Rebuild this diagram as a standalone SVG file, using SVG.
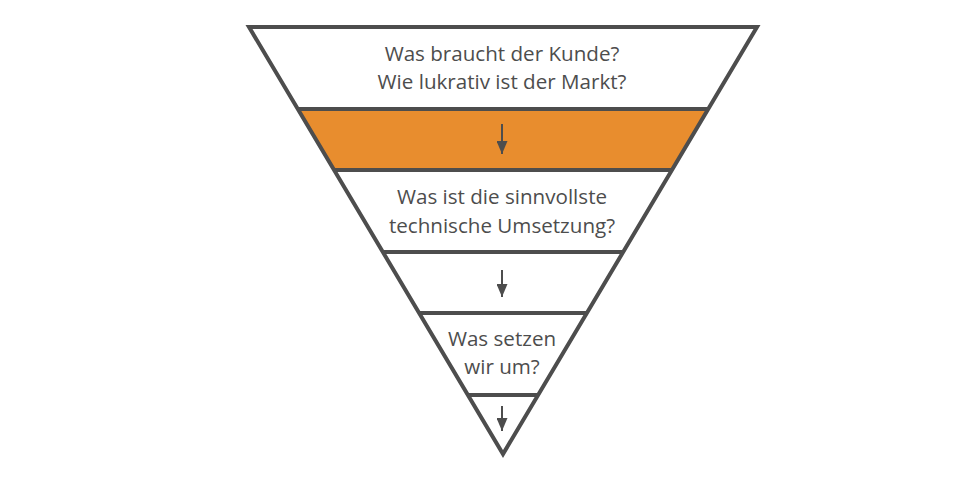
<svg xmlns="http://www.w3.org/2000/svg" width="968" height="478" viewBox="0 0 968 478">
<defs>
<style>
.t{font-family:"Open Sans","Liberation Sans",sans-serif;font-size:20.6px;fill:#4d4d4d;text-anchor:middle}
.ln{stroke:#4d4d4d;stroke-width:4;fill:none}
.ar{stroke:#4d4d4d;stroke-width:2;fill:none}
</style>
<marker id="ah" markerWidth="13" markerHeight="11" refX="13" refY="5.5" orient="auto" markerUnits="userSpaceOnUse" viewBox="0 0 13 11">
<path d="M0,0 L13,5.5 L0,11 Z" fill="#4d4d4d"/>
</marker>
</defs>
<rect width="968" height="478" fill="#ffffff"/>
<g id="funnel">
<polygon points="249,27 757,27 503,454" fill="#ffffff"/>
<polygon points="297.8,109 708.2,109 672,170 334,170" fill="#e88d2e"/>
</g>
<g id="connectors">
<line x1="502" y1="124" x2="502" y2="154" class="ar" marker-end="url(#ah)"/>
<line x1="502" y1="270" x2="502" y2="297" class="ar" marker-end="url(#ah)"/>
<line x1="502" y1="406" x2="502" y2="431" class="ar" marker-end="url(#ah)"/>
</g>
<g id="lines">
<line x1="297.8" y1="109" x2="708.2" y2="109" class="ln"/>
<line x1="334" y1="170" x2="672" y2="170" class="ln"/>
<line x1="382.8" y1="252" x2="623.2" y2="252" class="ln"/>
<line x1="419" y1="313" x2="587" y2="313" class="ln"/>
<line x1="468" y1="395" x2="538" y2="395" class="ln"/>
<polygon points="249,27 757,27 503,454" class="ln"/>
</g>
<g id="node1">
<text class="t" x="502" y="61">Was braucht der Kunde?</text>
<text class="t" x="502" y="89">Wie lukrativ ist der Markt?</text>
</g>
<g id="node2">
<text class="t" x="502" y="204">Was ist die sinnvollste</text>
<text class="t" x="502" y="233">technische Umsetzung?</text>
</g>
<g id="node3">
<text class="t" x="502" y="346">Was setzen</text>
<text class="t" x="502" y="374">wir um?</text>
</g>
</svg>
